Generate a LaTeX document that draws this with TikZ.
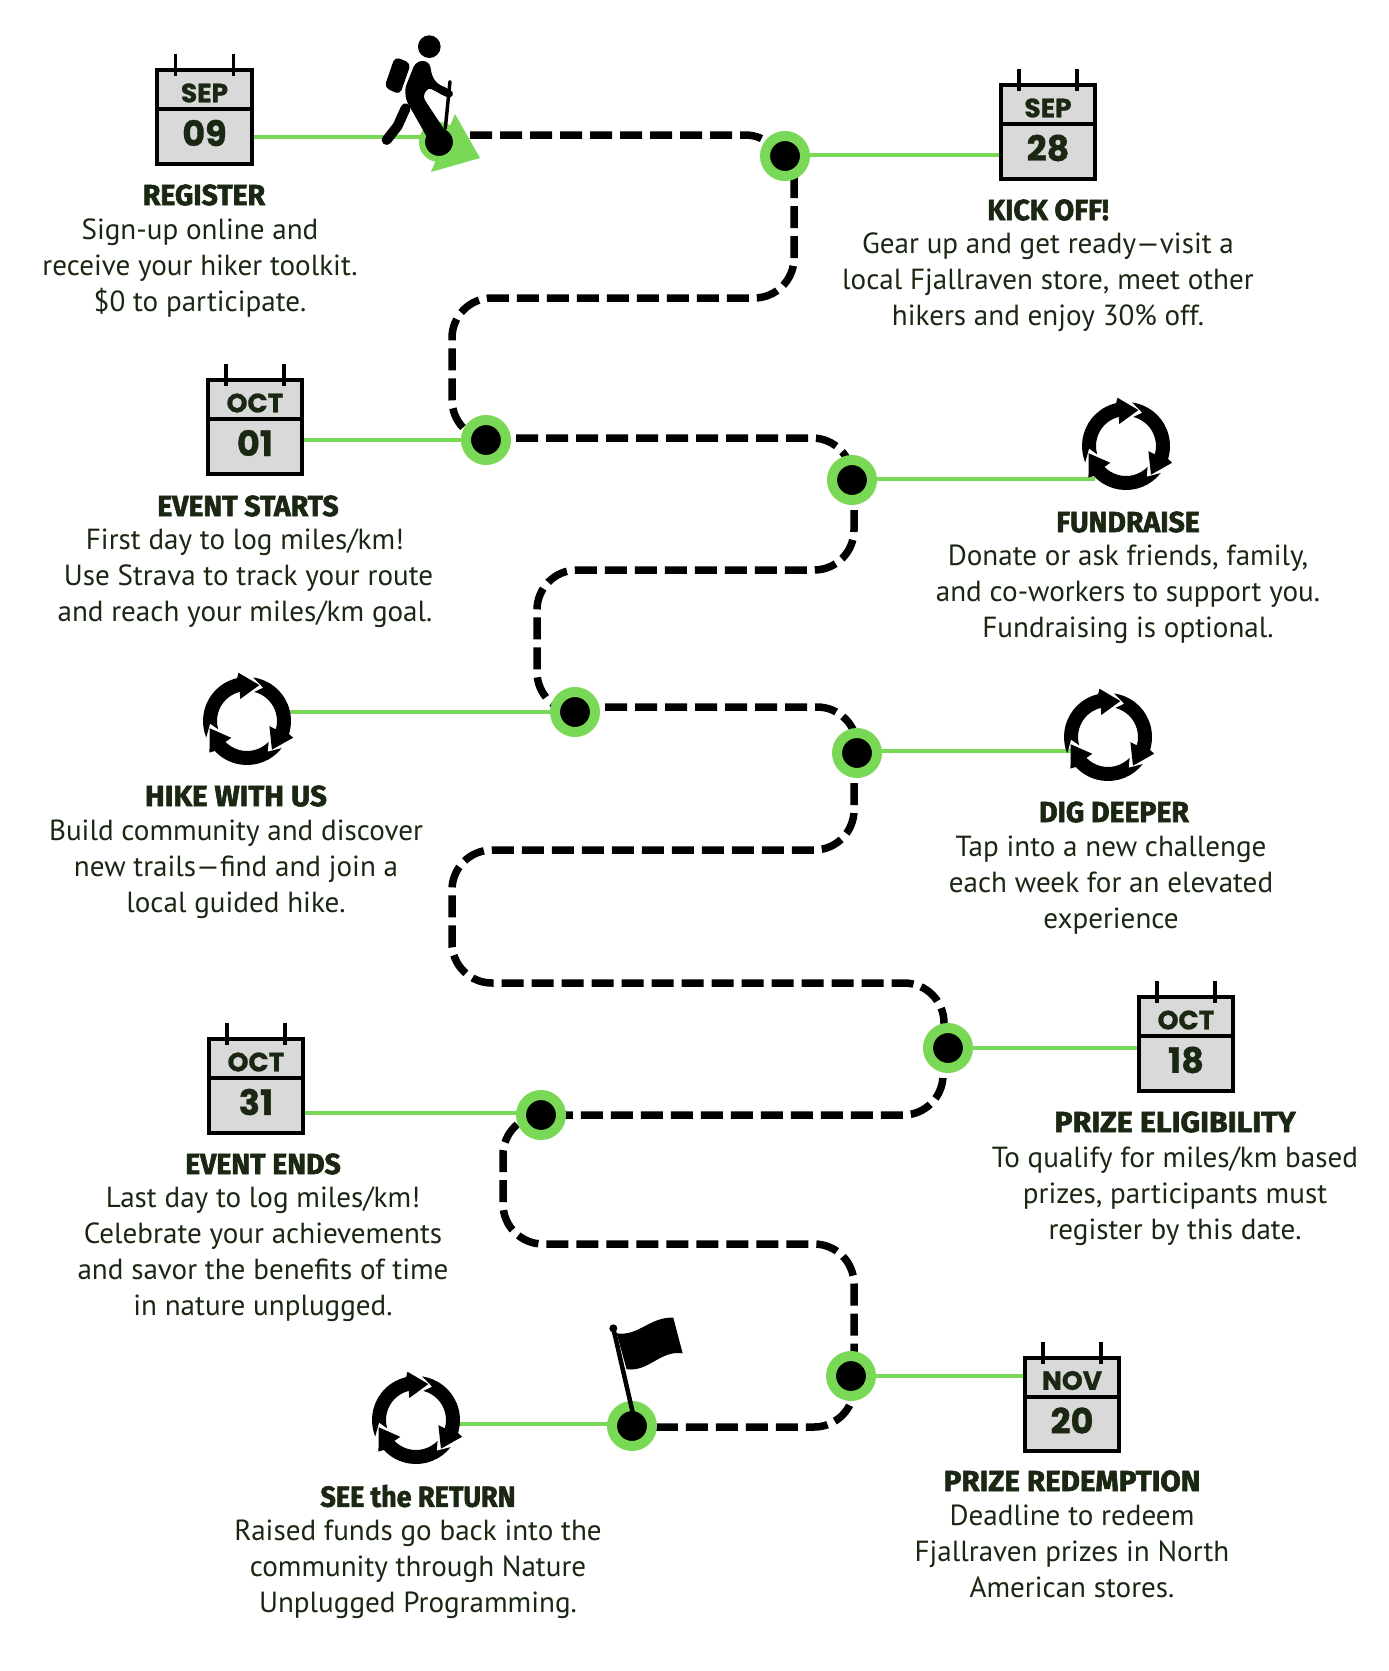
\documentclass[tikz,border=0pt]{standalone}
\usepackage{fontspec}
\setmainfont{PT Sans}
\newfontfamily\headfont[FakeBold=2,FakeStretch=0.98]{Fira Sans Bold}
\newfontfamily\calfont[FakeBold=1]{Poppins Bold}
\usetikzlibrary{backgrounds}
\definecolor{trailgreen}{HTML}{7AD857}
\definecolor{inkgreen}{HTML}{1A2713}
\definecolor{calgrey}{HTML}{D9D9D9}
\tikzset{
  trail/.style={line width=7.5pt,dash pattern=on 22pt off 8pt,rounded corners=40pt},
  spur/.style={trailgreen,line width=3.5pt},
  stop/.style={circle,fill=black,draw=trailgreen,line width=10pt,minimum size=40pt,inner sep=0pt},
  calframe/.style={rectangle,draw=black,fill=calgrey,line width=4pt,minimum width=94.5pt,minimum height=93.5pt,inner sep=0pt},
  calmonth/.style={inkgreen,font=\calfont\fontsize{26.5}{26.5}\selectfont,inner sep=0pt},
  calday/.style={inkgreen,font=\calfont\fontsize{35}{35}\selectfont,inner sep=0pt},
  heading/.style={inkgreen,font=\headfont\fontsize{29}{29}\selectfont,inner sep=0pt},
  blurb/.style={inkgreen,font=\fontsize{29.1}{36}\selectfont,align=center,inner sep=0pt},
  loopicon/.pic={
    \foreach \r in {0,120,240} {
      \fill[black,rotate=\r,x=1pt,y=1pt]
        (82:44) arc (82:-17:44) -- (-20:49) -- (-49:38) -- (-13:23) -- (-16:30)
        arc (-16:76:30) -- (64:37) -- cycle;
    }
  }
}
\newcommand{\calsheet}[5]{%
  \node[calframe] (#1) at (#2,#3) {};
  \draw[line width=4pt] ([yshift=8pt]#1.west) -- ([yshift=8pt]#1.east);
  \draw[line width=3.5pt] ([xshift=-29pt,yshift=-8pt]#1.north) -- ([xshift=-29pt,yshift=14pt]#1.north);
  \draw[line width=3.5pt] ([xshift=29pt,yshift=-8pt]#1.north) -- ([xshift=29pt,yshift=14pt]#1.north);
  \node[calmonth] (#1month) at ([yshift=24pt]#1.center) {#4};
  \node[calday] (#1day) at ([yshift=-16pt]#1.center) {#5};
}
\begin{document}
\begin{tikzpicture}[x=1pt,y=-1pt]
\useasboundingbox (0,0) rectangle (1389,1671);

% arrow under the first stop
\coordinate (trailstart) at (470,135);
\fill[trailgreen] (455,114) -- (480,158) -- (431,172) -- (440,150) -- cycle;

\node[stop,line width=6pt,minimum size=34pt] (regstop) at (439,142) {};
\node[stop] (kickstop) at (785,156) {};
\node[stop] (startstop) at (486,440) {};
\node[stop] (fundstop) at (852,480) {};
\node[stop] (hikestop) at (575,712) {};
\node[stop] (digstop) at (857,753) {};
\node[stop] (prizestop) at (948,1048) {};
\node[stop] (endstop) at (541,1115) {};
\node[stop] (redeemstop) at (851,1376) {};
\node[stop] (seestop) at (632,1426) {};

% calendars
\calsheet{regcal}{204.5}{117}{SEP}{09}
\calsheet{kickcal}{1048}{132}{SEP}{28}
\calsheet{startcal}{255}{427}{OCT}{01}
\calsheet{prizecal}{1186}{1044}{OCT}{18}
\calsheet{endcal}{256}{1086}{OCT}{31}
\calsheet{redeemcal}{1072}{1404.5}{NOV}{20}

% arrow loops
\pic (fundloop) at (1126,446) {loopicon};
\pic (hikeloop) at (247,721) {loopicon};
\pic (digloop) at (1108,737) {loopicon};
\pic (seeloop) at (416,1420) {loopicon};
\coordinate (fundend) at (1095,479);
\coordinate (hikeend) at (290,712);
\coordinate (digend) at (1075,751);
\coordinate (seeend) at (458,1424);
\coordinate (kickend) at (1000,155);
\coordinate (endend) at (310,1113);

% lines and dashes go behind
\begin{scope}[on background layer]
\draw[spur] (regcal.east |- 0,137) -- (regstop.center |- 0,137);
\draw[spur] (kickstop.center |- kickend) -- (kickcal.west |- kickend);
\draw[spur] (startcal.east |- startstop) -- (startstop);
\draw[spur] (fundstop.center |- fundend) -- (fundend);
\draw[spur] (hikeend) -- (hikestop.center |- hikeend);
\draw[spur] (digstop.center |- digend) -- (digend);
\draw[spur] (prizestop) -- (prizecal.west |- prizestop);
\draw[spur] (endcal.east |- endend) -- (endstop.center |- endend);
\draw[spur] (redeemstop) -- (redeemcal.west |- redeemstop);
\draw[spur] (seeend) -- (seestop.center |- seeend);

\draw[trail] (trailstart) -- (kickstop.center |- 0,135) -- ([yshift=-20pt]kickstop.center);
\draw[trail] ([xshift=9pt,yshift=-20pt]kickstop.center) -- (794,298) -- (452,298) -- (452,440) -- (startstop.center);
\draw[trail] (startstop.center |- 0,438) -- (fundstop.center |- 0,438) -- (fundstop.center);
\draw[trail] ([xshift=2pt]fundstop.center) -- (854,570) -- (537,570) -- (537,712) -- (hikestop.center);
\draw[trail] (hikestop.center |- 0,707) -- (digstop.center |- 0,707) -- (digstop.center);
\draw[trail] ([xshift=-3pt]digstop.center) -- (854,850) -- (452,850) -- (452,983) -- (944,983) -- ([xshift=-4pt]prizestop.center);
\draw[trail] ([xshift=-5pt]prizestop.center) -- (943,1115) -- (endstop.center |- 0,1115);
\draw[trail] (endstop.center) -- (503,1115) -- (503,1244) -- (854,1244) -- ([xshift=3pt]redeemstop.center);
\draw[trail] ([xshift=3pt]redeemstop.center) -- (854,1427) -- (seestop.center |- 0,1427);
\end{scope}

% hiker, in crop pixels
\begin{scope}[xshift=100pt,x=0.3333pt,y=-0.3333pt]
\fill[black] (988,140) circle (34);
\fill[black,rounded corners=5pt] (885,170) -- (933,190) -- (900,284) -- (853,262) -- cycle;
\fill[black,rounded corners=4pt] (945,190) -- (968,180) -- (990,190) -- (995,225) -- (1010,250) -- (1062,275) -- (1055,295) -- (1040,292) -- (985,262) -- (968,290) -- (1060,430) -- (1000,445) -- (918,300) -- (915,265) -- cycle;
\draw[black,line width=10pt,line cap=round,line join=round] (917,325) -- (893,378) -- (860,420);
\draw[black,line width=3.5pt,line cap=round] (1050,245) -- (1036,385);
\end{scope}

% flag, in crop pixels
\begin{scope}[xshift=340pt,yshift=-1290pt,x=0.3333pt,y=-0.3333pt]
\draw[black,line width=4.5pt] (820,115) -- (880,375);
\fill[black] (820,115) circle (12);
\fill[black] (830,130) .. controls (895,140) and (930,80) .. (1000,83) -- (1028,190) .. controls (960,180) and (930,245) .. (860,238) -- cycle;
\end{scope}

% texts
\node[heading] (regtitle) at (204,195) {REGISTER};
\node[blurb] (regtext) at (200,268) {Sign-up online and\\receive your hiker toolkit.\\\$0 to participate.};
\node[heading] (kicktitle) at (1048,210) {KICK OFF!};
\node[blurb] (kicktext) at (1048,282) {Gear up and get ready—visit a\\local Fjallraven store, meet other\\hikers and enjoy 30\% off.};
\node[heading] (starttitle) at (248,506) {EVENT STARTS};
\node[blurb] (starttext) at (245,578) {First day to log miles/km!\\\hspace{7pt}Use Strava to track your route\\and reach your miles/km goal.};
\node[heading] (fundtitle) at (1128,522) {FUNDRAISE};
\node[blurb] (fundtext) at (1128,594) {Donate or ask friends, family,\\and co-workers to support you.\\Fundraising is optional.};
\node[heading,xscale=1.04] (hiketitle) at (236,796) {HIKE WITH US};
\node[blurb] (hiketext) at (236,869) {Build community and discover\\new trails—find and join a\\local guided hike.};
\node[heading] (digtitle) at (1114,812) {DIG DEEPER};
\node[blurb] (digtext) at (1111,885) {Tap into a new challenge\\each week for an elevated\\experience};
\node[heading,xscale=1.07] (prizetitle) at (1175,1122) {PRIZE ELIGIBILITY};
\node[blurb] (prizetext) at (1175,1196) {To qualify for miles/km based\\prizes, participants must\\register by this date.};
\node[heading] (endtitle) at (263,1164) {EVENT ENDS};
\node[blurb] (endtext) at (263,1254.5) {Last day to log miles/km!\\Celebrate your achievements\\and savor the benefits of time\\in nature unplugged.};
\node[heading,xscale=0.95] (seetitle) at (418,1496) {SEE the RETURN};
\node[blurb] (seetext) at (418,1569) {Raised funds go back into the\\community through Nature\\Unplugged Programming.};
\node[heading,xscale=1.04] (redeemtitle) at (1072,1481) {PRIZE REDEMPTION};
\node[blurb] (redeemtext) at (1072,1551) {Deadline to redeem\\Fjallraven prizes in North\\American stores.};
\end{tikzpicture}
\end{document}
